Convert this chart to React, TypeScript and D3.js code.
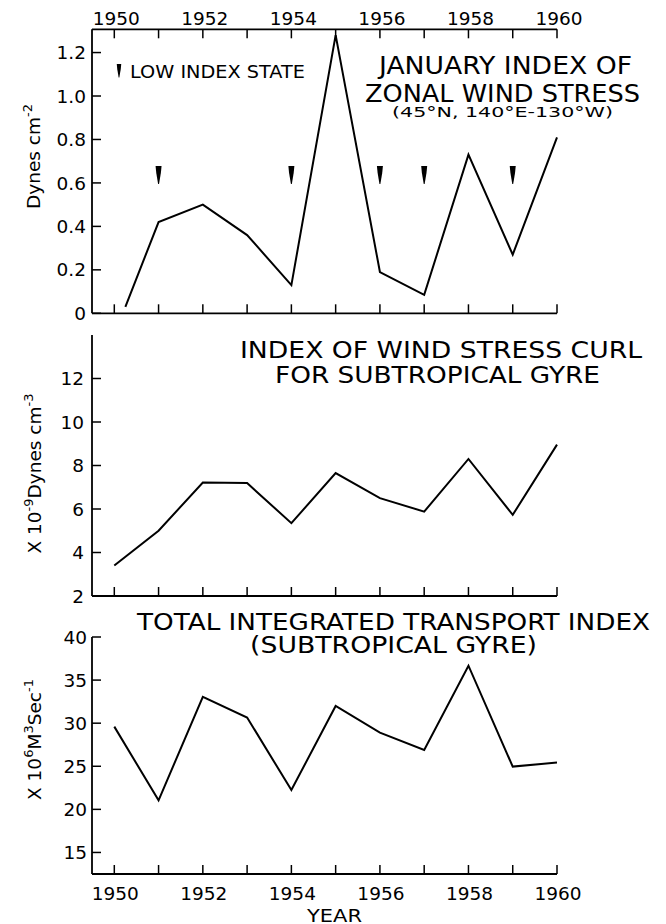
import React from "react";
import * as d3 from "d3";

const years = [1950, 1951, 1952, 1953, 1954, 1955, 1956, 1957, 1958, 1959, 1960];
const windStressYears = [1950.25, 1951, 1952, 1953, 1954, 1955, 1956, 1957, 1958, 1959, 1960];
const windStress = [0.03, 0.42, 0.5, 0.36, 0.13, 1.28, 0.19, 0.085, 0.73, 0.27, 0.81];
const lowIndexYears = [1951, 1954, 1956, 1957, 1959];
const curl = [3.4, 5.0, 7.22, 7.19, 5.35, 7.65, 6.5, 5.88, 8.3, 5.73, 8.96];
const transport = [29.6, 21.05, 33.06, 30.66, 22.24, 32.0, 28.9, 26.9, 36.67, 24.96, 25.43];
const yearLabels = [1950, 1952, 1954, 1956, 1958, 1960];
const stressTicks = [0, 0.2, 0.4, 0.6, 0.8, 1.0, 1.2];
const curlTicks = [2, 4, 6, 8, 10, 12];
const transportTicks = [15, 20, 25, 30, 35, 40];

const FONT = "'DejaVu Sans', 'Liberation Sans', sans-serif";
const SW = 1.8;
const TICK = 9;

const x = d3.scaleLinear().domain([1950, 1960]).range([114.3, 557]);
const xLeft = 92;
const yStress = d3.scaleLinear().domain([0, 1.307]).range([313.3, 29.3]);
const yCurl = d3.scaleLinear().domain([2, 14]).range([596, 335]);
const yTrans = d3.scaleLinear().domain([12.5, 40]).range([874, 637]);

const marker = "M-3,-18 H3 L2.3,-11 L0.45,0 H-0.45 L-2.3,-11 Z";

function fmtStress(v: number) {
  return v === 0 ? "0" : v.toFixed(1);
}

function Panel({
  y,
  ticks,
  fmt,
  labelX,
  values,
  xs,
  topAxis,
}: {
  y: d3.ScaleLinear<number, number>;
  ticks: number[];
  fmt: (v: number) => string;
  labelX: number;
  values: number[];
  xs: number[];
  topAxis: boolean;
}) {
  const [d0, d1] = y.domain();
  const yb = y(d0);
  const yt = y(d1);
  const line = d3
    .line<number>()
    .x((_, i) => x(xs[i]))
    .y((v) => y(v));
  return (
    <g>
      <line x1={xLeft} x2={xLeft} y1={yt} y2={yb} stroke="#000" strokeWidth={SW} />
      <line x1={xLeft} x2={x(1960)} y1={yb} y2={yb} stroke="#000" strokeWidth={SW} />
      {years.map((yr) => (
        <line key={"b" + yr} x1={x(yr)} x2={x(yr)} y1={yb} y2={yb - TICK} stroke="#000" strokeWidth={1.5} />
      ))}
      {topAxis && (
        <g>
          <line x1={xLeft} x2={x(1960)} y1={yt} y2={yt} stroke="#000" strokeWidth={SW} />
          {years.map((yr) => (
            <line key={"t" + yr} x1={x(yr)} x2={x(yr)} y1={yt} y2={yt + TICK} stroke="#000" strokeWidth={1.5} />
          ))}
        </g>
      )}
      {ticks.map((t) => (
        <g key={"y" + t}>
          <line x1={xLeft} x2={xLeft + TICK} y1={y(t)} y2={y(t)} stroke="#000" strokeWidth={1.5} />
          <text x={labelX} y={y(t) + 6.6} textAnchor="end" fontSize={18.5} fontFamily={FONT}>
            {fmt(t)}
          </text>
        </g>
      ))}
      <path d={line(values) || ""} fill="none" stroke="#000" strokeWidth={2} strokeLinejoin="miter" />
    </g>
  );
}

function Title({ text, cx, y, width, size }: { text: string; cx: number; y: number; width: number; size: number }) {
  return (
    <text
      x={cx - width / 2}
      y={y}
      fontSize={size}
      fontFamily={FONT}
      textLength={width}
      lengthAdjust="spacingAndGlyphs"
    >
      {text}
    </text>
  );
}

export default function App() {
  return (
    <svg
      width={666}
      height={924}
      style={{ position: "absolute", left: 0, top: 0, background: "#fff" }}
      fontFamily={FONT}
    >
      <rect width={666} height={924} fill="#fff" />

      {/* Top panel */}
      <Panel y={yStress} ticks={stressTicks} fmt={fmtStress} labelX={86} values={windStress} xs={windStressYears} topAxis={true} />
      {yearLabels.map((yr) => (
        <text key={"tl" + yr} x={x(yr) + 2} y={25} textAnchor="middle" fontSize={18.5}>
          {yr}
        </text>
      ))}
      {lowIndexYears.map((yr) => (
        <path key={"m" + yr} d={marker} transform={`translate(${x(yr)},${yStress(0.595)})`} fill="#000" />
      ))}
      <path d={marker} transform="translate(119,77.5) scale(0.75)" fill="#000" />
      <Title text="LOW INDEX STATE" cx={217.5} y={78} width={175} size={18} />
      <Title text="JANUARY INDEX OF" cx={505.5} y={74} width={253} size={24.5} />
      <Title text="ZONAL WIND STRESS" cx={502.5} y={101.7} width={275} size={24.5} />
      <Title text="(45°N,  140°E-130°W)" cx={502.5} y={116.7} width={221} size={13.5} />
      <text transform="translate(40,156.5) rotate(-90)" textAnchor="middle" fontSize={18.5}>
        Dynes cm
        <tspan fontSize={13} dy={-8}>
          -2
        </tspan>
      </text>

      {/* Middle panel */}
      <Panel y={yCurl} ticks={curlTicks} fmt={(v) => String(v)} labelX={84} values={curl} xs={years} topAxis={false} />
      <Title text="INDEX OF WIND STRESS CURL" cx={441} y={358.3} width={402} size={23} />
      <Title text="FOR SUBTROPICAL GYRE" cx={437.5} y={383.3} width={325} size={23} />
      <text transform="translate(41,473.5) rotate(-90)" textAnchor="middle" fontSize={18.5}>
        X 10
        <tspan fontSize={13} dy={-8}>
          -9
        </tspan>
        <tspan dy={8}>Dynes cm</tspan>
        <tspan fontSize={13} dy={-8}>
          -3
        </tspan>
      </text>

      {/* Bottom panel */}
      <Panel y={yTrans} ticks={transportTicks} fmt={(v) => String(v)} labelX={87} values={transport} xs={years} topAxis={false} />
      <Title text="TOTAL INTEGRATED TRANSPORT INDEX" cx={393.5} y={630} width={513} size={23} />
      <Title text="(SUBTROPICAL GYRE)" cx={393.5} y={653} width={287} size={23} />
      <text transform="translate(41,739.5) rotate(-90)" textAnchor="middle" fontSize={18.5}>
        X 10
        <tspan fontSize={13} dy={-8}>
          6
        </tspan>
        <tspan dy={8}>M</tspan>
        <tspan fontSize={13} dy={-8}>
          3
        </tspan>
        <tspan dy={8}>Sec</tspan>
        <tspan fontSize={13} dy={-8}>
          -1
        </tspan>
      </text>
      {yearLabels.map((yr) => (
        <text key={"bl" + yr} x={x(yr) + 1} y={900} textAnchor="middle" fontSize={18.5}>
          {yr}
        </text>
      ))}
      <Title text="YEAR" cx={334.5} y={921.5} width={55} size={18.5} />
    </svg>
  );
}
